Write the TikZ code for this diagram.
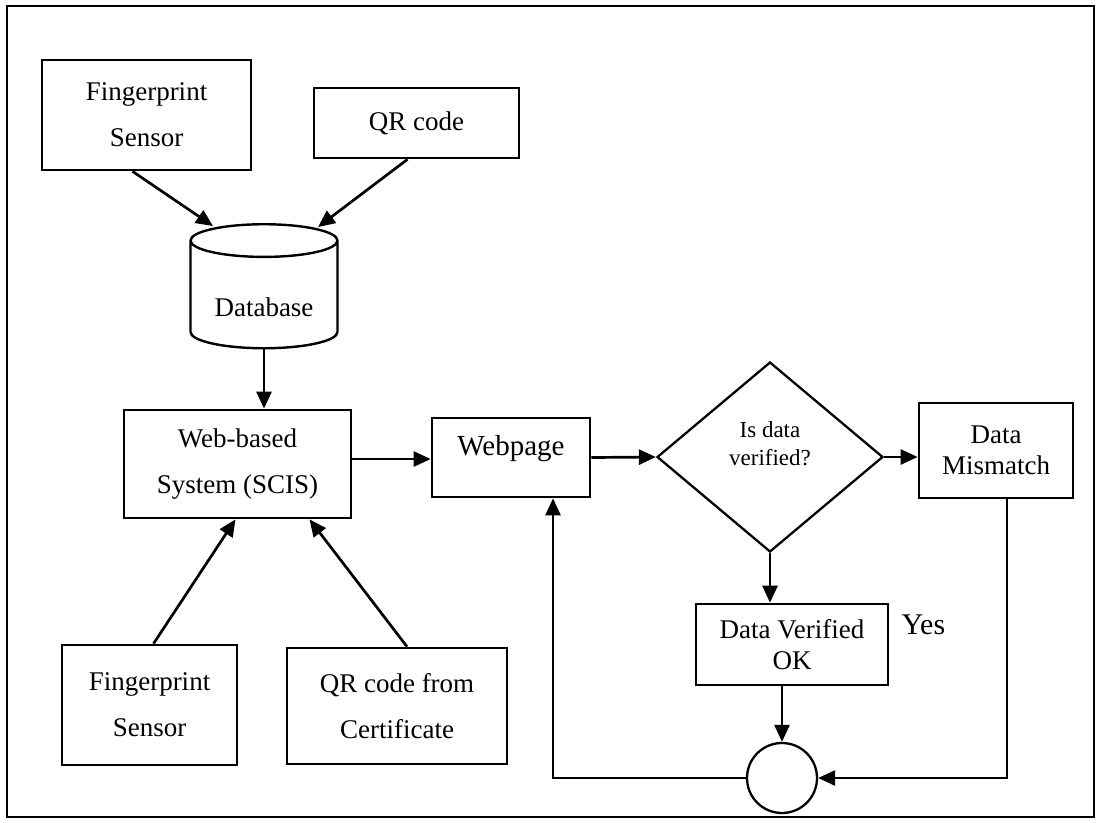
\documentclass[tikz,border=0pt]{standalone}
\usepackage{fontspec}
\setmainfont{Liberation Serif}
\usetikzlibrary{arrows.meta,positioning,shapes.geometric}

\begin{document}
\begin{tikzpicture}[x=1pt,y=-1pt,
  box/.style={draw,line width=2.7pt,align=center,inner sep=0pt,
              font=\fontsize{27}{46}\selectfont},
  tight/.style={box,font=\fontsize{27}{31}\selectfont},
  dbase/.style={draw,line width=2.4pt,cylinder,shape border rotate=90,aspect=0.33,
                inner sep=0pt,minimum width=147pt,minimum height=124pt,
                font=\fontsize{27}{31}\selectfont},
  decision/.style={draw,diamond,line width=2.3pt,inner sep=0pt,aspect=1.19,
                   minimum width=226pt,minimum height=190pt,align=center,
                   font=\fontsize{23}{28}\selectfont},
  joint/.style={draw,circle,line width=2.3pt,minimum size=70pt,inner sep=0pt},
  arrow/.style={-{Triangle[length=17pt,width=15pt]},line width=2.7pt},
  link/.style={line width=2.7pt}
]
\useasboundingbox (0,0) rectangle (1102,822);
\draw[line width=2.3pt] (7,6) rectangle (1094,817);

% Enrolment side.
\node[box,minimum width=209pt,minimum height=110pt] (fpa) at (146.5,115)
  {Fingerprint\\Sensor};
\node[box,minimum width=205pt,minimum height=70pt] (qra) at (416.5,123)
  {QR code};
\node[dbase,text height=42pt,text depth=0pt] (db) at (264,295) {Database};
\node[box,minimum width=227pt,minimum height=108pt] (web) at (237.5,464)
  {Web-based\\System (SCIS)};

% Verification side.
\node[box,minimum width=175pt,minimum height=120pt] (fpb) at (149.5,705)
  {Fingerprint\\Sensor};
\node[box,minimum width=220pt,minimum height=116pt] (qrb) at (397,706)
  {QR code from\\Certificate};
\node[box,minimum width=158pt,minimum height=79pt,text height=18pt,
      text depth=23pt,font=\fontsize{29}{31}\selectfont] (page) at (511,457.5)
  {Webpage};
\node[decision] (check) at (770,457) {Is data\\verified?\\[-2pt]};
\node[tight,minimum width=154pt,minimum height=95pt] (mismatch) at (996,450.5)
  {Data\\Mismatch};
\node[tight,minimum width=192pt,minimum height=81pt] (ok) at (792,644.5)
  {Data Verified\\OK};
\node[font=\fontsize{30}{30}\selectfont,anchor=west] (yes) at (898,625) {Yes};
\node[joint] (merge) at (782,778) {};

% Connectors.
\draw[arrow] ([xshift=-14pt]fpa.south) -- ([xshift=-51pt,yshift=-3pt]db.north);
\draw[arrow] ([xshift=-9pt]qra.south) -- ([xshift=54pt,yshift=-4pt]db.north);
\draw[arrow] (db.south) -- (db.south |- web.north);
\draw[arrow] ([xshift=4pt]fpb.north) -- ([xshift=-2pt]web.south);
\draw[arrow] ([xshift=10pt]qrb.north) -- ([xshift=72pt]web.south);
\draw[arrow] ([yshift=5pt]web.east) -- ([yshift=5pt]web.east -| page.west);
\draw[arrow] (page.east) -- (check.west);
\draw[arrow] (check.east) -- (check.east -| mismatch.west);
\draw[arrow] (check.south) -- (check.south |- ok.north);
\draw[arrow] (merge.north |- ok.south) -- (merge.north);
\draw[arrow] ([xshift=11pt]mismatch.south) |- (merge.east);
\draw[arrow] (merge.west) -| ([xshift=42pt]page.south);
\end{tikzpicture}
\end{document}
